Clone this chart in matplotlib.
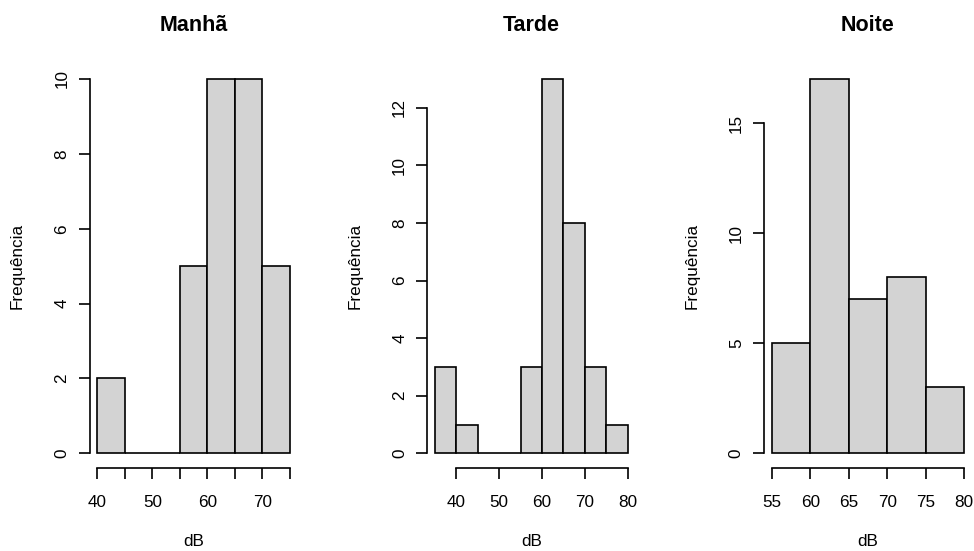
import matplotlib
matplotlib.use('Agg')
import matplotlib.pyplot as plt

plt.rcParams['font.family'] = ['Liberation Sans', 'DejaVu Sans']

# dados (histogramas por periodo)
titulos = ['Manhã', 'Tarde', 'Noite']
bordas_manha = [40, 45, 50, 55, 60, 65, 70, 75]
contagens_manha = [2, 0, 0, 5, 10, 10, 5]
bordas_tarde = [35, 40, 45, 50, 55, 60, 65, 70, 75, 80]
contagens_tarde = [3, 1, 0, 0, 3, 13, 8, 3, 1]
bordas_noite = [55, 60, 65, 70, 75, 80]
contagens_noite = [5, 17, 7, 8, 3]

xticks_manha = [40, 45, 50, 55, 60, 65, 70, 75]
xlabels_manha = ['40', '', '50', '', '60', '', '70', '']
xticks_tarde = [40, 50, 60, 70, 80]
xlabels_tarde = ['40', '50', '60', '70', '80']
xticks_noite = [55, 60, 65, 70, 75, 80]
xlabels_noite = ['55', '60', '65', '70', '75', '80']
yticks_manha = [0, 2, 4, 6, 8, 10]
yticks_tarde = [0, 2, 4, 6, 8, 10, 12]
yticks_noite = [0, 5, 10, 15]

bordas = [bordas_manha, bordas_tarde, bordas_noite]
contagens = [contagens_manha, contagens_tarde, contagens_noite]
xticks = [xticks_manha, xticks_tarde, xticks_noite]
xlabels = [xlabels_manha, xlabels_tarde, xlabels_noite]
yticks = [yticks_manha, yticks_tarde, yticks_noite]

W, H = 974, 551
fig = plt.figure(figsize=(W / 100, H / 100), dpi=100)

# posicao das regioes de plotagem (pixels)
esquerdas = [89.6, 427.3, 764.0]
topo, base, largura = 64.0, 468.3, 208.0

for i in range(3):
    ax = fig.add_axes([esquerdas[i] / W, 1 - base / H, largura / W, (base - topo) / H])
    b = bordas[i]
    c = contagens[i]
    ax.bar(b[:-1], c, width=[b[k + 1] - b[k] for k in range(len(c))], align='edge',
           color='#D3D3D3', edgecolor='black', linewidth=1.2, zorder=2)

    # limites estilo R (4% de folga)
    rx = b[-1] - b[0]
    ax.set_xlim(b[0] - 0.04 * rx, b[-1] + 0.04 * rx)
    ry = max(c)
    ax.set_ylim(-0.04 * ry, ry + 0.04 * ry)

    for s in ['top', 'right']:
        ax.spines[s].set_visible(False)
    ax.spines['left'].set_bounds(yticks[i][0], yticks[i][-1])
    ax.spines['bottom'].set_bounds(xticks[i][0], xticks[i][-1])
    for s in ['left', 'bottom']:
        ax.spines[s].set_linewidth(1.2)

    ax.set_xticks(xticks[i])
    ax.set_xticklabels(xlabels[i])
    ax.set_yticks(yticks[i])
    ax.set_yticklabels([str(v) for v in yticks[i]], rotation=90, va='center')
    ax.tick_params(axis='both', length=8, width=1.2, labelsize=12.3)
    ax.tick_params(axis='x', pad=11.5)
    ax.tick_params(axis='y', pad=6.5)

    ax.set_xlabel('dB', fontsize=12.3)
    ax.xaxis.set_label_coords(0.5, -(541 - base) / (base - topo))
    ax.xaxis.label.set_va('center')
    ax.set_ylabel('Frequência', fontsize=12.3)
    ax.yaxis.set_label_coords(-72 / largura, 0.5)
    ax.yaxis.label.set_va('center')

    ax.text(0.5, 1 + 33 / (base - topo), titulos[i], transform=ax.transAxes,
            ha='center', va='baseline', fontsize=15.5, fontweight='bold')

fig.savefig('out.png', dpi=100)
